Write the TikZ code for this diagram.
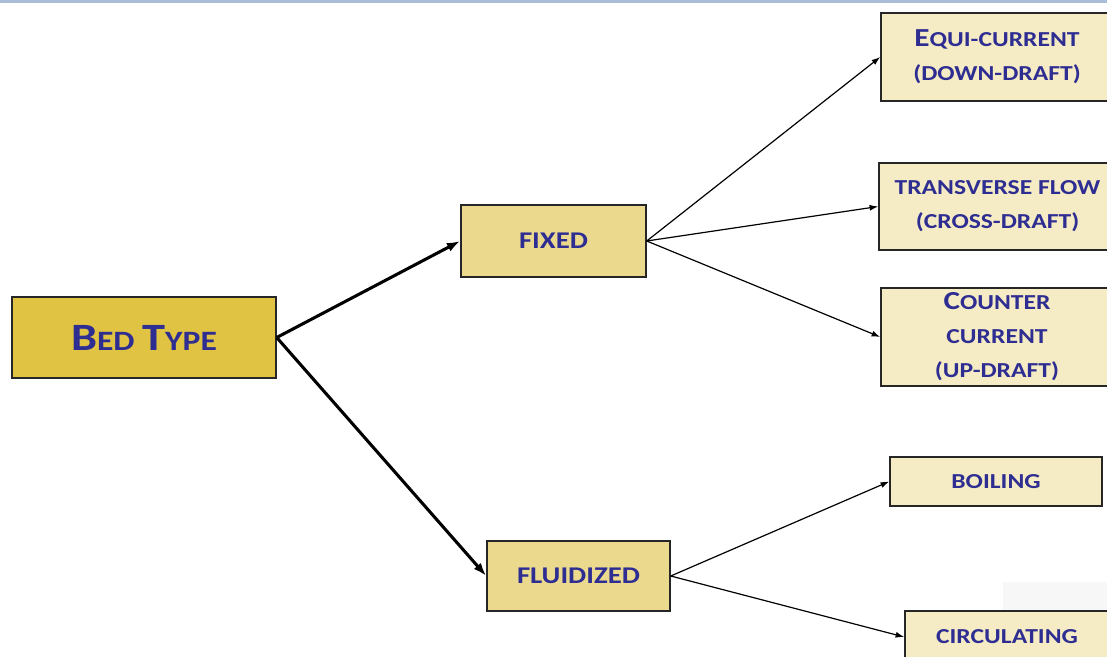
\documentclass[tikz,border=0pt]{standalone}
\usepackage{fontspec}
\usetikzlibrary{arrows.meta}
\newfontfamily\boxfont{Carlito}[FakeStretch=1.2]
\definecolor{txtblue}{RGB}{46,46,146}
\definecolor{rootfill}{RGB}{224,195,66}
\definecolor{midfill}{RGB}{235,218,142}
\definecolor{leaffill}{RGB}{245,235,196}
\definecolor{topband}{RGB}{170,188,214}
\newcommand{\BigCap}[2]{{\fontsize{#1}{25.5}\selectfont #2}}
\begin{document}
\begin{tikzpicture}[x=0.75pt,y=-0.75pt,
  sz/.style 2 args={minimum width=#1*0.75pt,minimum height=#2*0.75pt},
  box/.style={draw=black!85,line width=1.1pt,inner sep=0pt,align=center,
    text=txtblue,font=\boxfont\bfseries\fontsize{16}{25.5}\selectfont},
  rootbox/.style={box,fill=rootfill,font=\boxfont\bfseries\fontsize{21}{26}\selectfont},
  midbox/.style={box,fill=midfill,font=\boxfont\bfseries\fontsize{18}{24}\selectfont},
  leafbox/.style={box,fill=leaffill},
  thickarrow/.style={line width=2.3pt,-{Latex[length=10pt,width=7pt]}},
  thinarrow/.style={line width=0.9pt,-{Latex[length=6.5pt,width=4.5pt]}}]
\useasboundingbox (0,0) rectangle (1107,657);
\clip (0,0) rectangle (1107,657);
\fill[white] (0,0) rectangle (1107,657);
% faint panel in the lower right corner
\fill[black!3] (1003,582) rectangle (1107,657);
% thin band along the top edge
\fill[topband] (0,0) rectangle (1107,3);

\node[rootbox,sz={264}{81}] (bed) at (144,337.5)
  {\BigCap{29}{B}ED \BigCap{29}{T}YPE};
\node[midbox,sz={185}{72}] (fixed) at (553.5,241) {FIXED};
\node[midbox,sz={183}{70}] (fluid) at (578.5,576) {FLUIDIZED};

\node[leafbox,sz={232}{88}] (equi) at (997,57)
  {\BigCap{19.5}{E}QUI-CURRENT\\(DOWN-DRAFT)};
\node[leafbox,sz={237}{87}] (trans) at (997.5,206.5)
  {TRANSVERSE FLOW\\(CROSS-DRAFT)};
\node[leafbox,sz={232}{98}] (counter) at (997,337)
  {\BigCap{19.5}{C}OUNTER\\CURRENT\\(UP-DRAFT)};
\node[leafbox,sz={212}{49}] (boil) at (996,481.5) {BOILING};
\node[leafbox,sz={204}{52}] (circ) at (1007,637) {CIRCULATING};

\draw[thickarrow] (bed.east) -- (fixed.west);
\draw[thickarrow] (bed.east) -- (fluid.west);
\draw[thinarrow] (fixed.east) -- (equi.west);
\draw[thinarrow] (fixed.east) -- (trans.west);
\draw[thinarrow] (fixed.east) -- (counter.west);
\draw[thinarrow] (fluid.east) -- (boil.west);
\draw[thinarrow] (fluid.east) -- (circ.west);
\end{tikzpicture}
\end{document}
